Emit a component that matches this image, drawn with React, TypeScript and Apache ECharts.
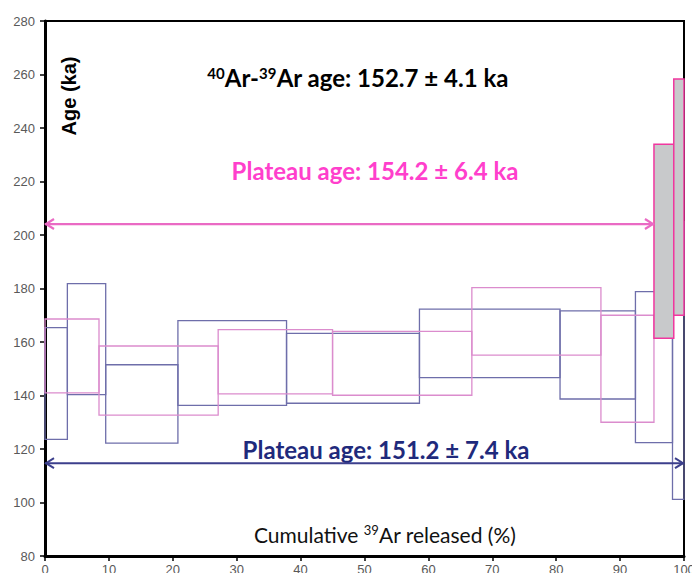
import React, { useEffect, useRef } from "react";
import * as echarts from "echarts";

// Step boundaries (cumulative 39Ar released, %) and age envelopes (ka)
const blueBounds = [0, 3.5, 9.5, 20.8, 37.8, 58.6, 80.6, 92.4, 98.2, 100];
const blueHigh = [165.4, 181.8, 151.5, 168.0, 163.2, 172.3, 171.6, 178.8, 205.0];
const blueLow = [123.6, 140.3, 122.2, 136.3, 137.1, 146.7, 138.7, 122.4, 101.2];

const pinkBounds = [0, 8.45, 27.1, 45.0, 66.8, 87.0, 95.3, 98.4, 100];
const pinkHigh = [168.6, 158.5, 164.6, 164.0, 180.3, 170.0, 233.9, 258.3];
const pinkLow = [141.0, 132.7, 140.6, 140.1, 155.1, 130.0, 161.4, 170.0];
const pinkExcluded = [false, false, false, false, false, false, true, true];

// Plateau arrows: [from %, to %, age]
const pinkPlateau = [0, 95.3, 204.1];
const bluePlateau = [0, 100, 114.7];

const xTicks = { min: 0, max: 100, interval: 10 };
const yTicks = { min: 80, max: 280, interval: 20 };

const BLUE = "#6e6eaa";
const PINK = "#db8ccd";
const MAGENTA = "#f0379f";

function stepsData(bounds: number[], hi: number[], lo: number[], excl?: boolean[]) {
  return hi.map((h, i) => [bounds[i], bounds[i + 1], lo[i], h, excl && excl[i] ? 1 : 0]);
}

function makeStepRender(color: string) {
  return (params: any, api: any) => {
    const x1 = api.value(0), x2 = api.value(1), lo = api.value(2), hi = api.value(3), ex = api.value(4);
    const p1 = api.coord([x1, hi]);
    const p2 = api.coord([x2, lo]);
    return {
      type: "rect",
      shape: { x: p1[0], y: p1[1], width: p2[0] - p1[0], height: p2[1] - p1[1] },
      style: ex
        ? { fill: "#c8c9cb", stroke: MAGENTA, lineWidth: 1.5 }
        : { fill: "none", stroke: color, lineWidth: 1.3 },
      z2: ex ? 10 : 1,
    };
  };
}

function makeArrowRender(color: string, lw: number) {
  return (params: any, api: any) => {
    const a = api.coord([api.value(0), api.value(2)]);
    const b = api.coord([api.value(1), api.value(2)]);
    const L = 9, H = 5;
    return {
      type: "group",
      children: [
        { type: "line", shape: { x1: a[0], y1: a[1], x2: b[0], y2: b[1] }, style: { stroke: color, lineWidth: lw } },
        {
          type: "polyline",
          shape: { points: [[a[0] + L, a[1] - H], [a[0] + 1, a[1]], [a[0] + L, a[1] + H]] },
          style: { stroke: color, lineWidth: lw, fill: "none" },
        },
        {
          type: "polyline",
          shape: { points: [[b[0] - L, b[1] - H], [b[0] - 1, b[1]], [b[0] - L, b[1] + H]] },
          style: { stroke: color, lineWidth: lw, fill: "none" },
        },
      ],
    };
  };
}

export default function App() {
  const ref = useRef<HTMLDivElement>(null);
  useEffect(() => {
    if (!ref.current) return;
    const chart = echarts.init(ref.current, null, { renderer: "svg" });
    const calibri = "Lato, 'Open Sans', sans-serif";
    chart.setOption({
      animation: false,
      backgroundColor: "#ffffff",
      grid: {
        left: 45, right: 8, top: 21, bottom: 17,
        outerBoundsMode: "none",
        containLabel: false,
        show: true, borderColor: "#000", borderWidth: 2, backgroundColor: "transparent",
      },
      xAxis: {
        type: "value",
        min: xTicks.min,
        max: xTicks.max,
        interval: xTicks.interval,
        axisLine: { show: true, lineStyle: { color: "#000", width: 3 } },
        axisTick: { show: true, length: 5, lineStyle: { color: "#000", width: 1.5 } },
        axisLabel: { color: "#595959", fontSize: 13, fontFamily: "'Liberation Sans', Arial, sans-serif", margin: 7 },
        splitLine: { show: false },
      },
      yAxis: {
        type: "value",
        min: yTicks.min,
        max: yTicks.max,
        interval: yTicks.interval,
        axisLine: { show: true, lineStyle: { color: "#000", width: 3 } },
        axisTick: { show: true, length: 5, lineStyle: { color: "#000", width: 1.5 } },
        axisLabel: { color: "#595959", fontSize: 13, fontFamily: "'Liberation Sans', Arial, sans-serif", margin: 10 },
        splitLine: { show: false },
      },
      series: [
        {
          type: "custom",
          renderItem: makeStepRender(BLUE),
          data: stepsData(blueBounds, blueHigh, blueLow),
          encode: { x: [0, 1], y: [2, 3] },
          z: 2,
        },
        {
          type: "custom",
          renderItem: makeStepRender(PINK),
          data: stepsData(pinkBounds, pinkHigh, pinkLow, pinkExcluded),
          encode: { x: [0, 1], y: [2, 3] },
          z: 3,
        },
        {
          type: "custom",
          renderItem: makeArrowRender("#ea6ac4", 2.2),
          data: [pinkPlateau],
          encode: { x: [0, 1], y: 2 },
          z: 4,
        },
        {
          type: "custom",
          renderItem: makeArrowRender("#3c3f8c", 2),
          data: [bluePlateau],
          encode: { x: [0, 1], y: 2 },
          z: 4,
        },
      ],
      graphic: [
        {
          type: "text",
          x: 69,
          y: 96,
          rotation: Math.PI / 2,
          style: {
            text: "Age (ka)",
            font: "bold 20px 'Liberation Sans', Arial, sans-serif",
            fill: "#000",
            align: "center",
            verticalAlign: "middle",
          },
        },
        {
          type: "text",
          x: 358,
          y: 77,
          style: {
            text: "{s|40}Ar-{s|39}Ar age: 152.7 ± 4.1 ka",
            fontFamily: calibri,
            fontWeight: "bold",
            fontSize: 24,
            fill: "#000",
            align: "center",
            verticalAlign: "middle",
            rich: {
              s: { fontSize: 15, fontWeight: "bold", fontFamily: calibri, fill: "#000", verticalAlign: "top", padding: [0, 0, 9, 0] },
            },
          },
        },
        {
          type: "text",
          x: 375,
          y: 170,
          style: {
            text: "Plateau age: 154.2 ± 6.4 ka",
            fontFamily: calibri,
            fontWeight: "bold",
            fontSize: 24,
            fill: "#ff3fcc",
            align: "center",
            verticalAlign: "middle",
          },
        },
        {
          type: "text",
          x: 386,
          y: 449,
          style: {
            text: "Plateau age: 151.2 ± 7.4 ka",
            fontFamily: calibri,
            fontWeight: "bold",
            fontSize: 24,
            fill: "#1f2a7c",
            align: "center",
            verticalAlign: "middle",
          },
        },
        {
          type: "text",
          x: 385,
          y: 534,
          style: {
            text: "Cumulative {s|39}Ar released (%)",
            fontFamily: calibri,
            fontSize: 21,
            fill: "#111",
            align: "center",
            verticalAlign: "middle",
            rich: {
              s: { fontSize: 13, fontFamily: calibri, fill: "#111", verticalAlign: "top", padding: [0, 0, 8, 0] },
            },
          },
        },
      ],
    });
    return () => chart.dispose();
  }, []);
  return <div ref={ref} style={{ position: "fixed", left: 0, top: 0, width: 692, height: 573 }} />;
}
